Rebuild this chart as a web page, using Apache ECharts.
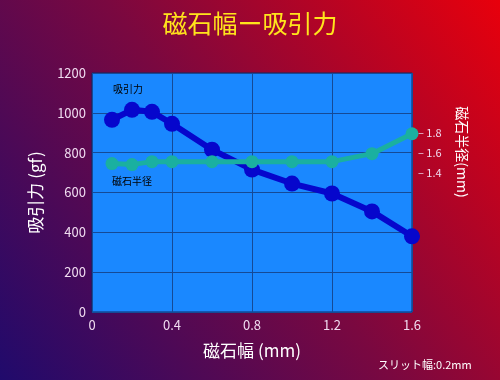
<!DOCTYPE html>
<html>
<head>
<meta charset="utf-8">
<script src="https://cdn.jsdelivr.net/npm/echarts@6/dist/echarts.min.js"></script>
<style>html,body{margin:0;padding:0;}#c{width:500px;height:380px;}</style>
</head>
<body>
<div id="c"></div>
<script>
const xValues = [0.1, 0.2, 0.3, 0.4, 0.6, 0.8, 1.0, 1.2, 1.4, 1.6];
const forceValues = [965, 1015, 1005, 945, 815, 715, 645, 595, 505, 380];
const radiusValues = [1.49, 1.48, 1.51, 1.51, 1.51, 1.51, 1.51, 1.51, 1.59, 1.79];
const rightTickLabels = [1.4, 1.6, 1.8];

const chart = echarts.init(document.getElementById('c'), null, {renderer: 'canvas'});
const font = '"Noto Sans CJK JP", "Noto Sans", sans-serif';
const labelColor = '#f0dcf0';
chart.setOption({
  backgroundColor: {
    type: 'linear', x: 0, y: 1, x2: 1, y2: 0,
    colorStops: [
      {offset: 0, color: '#200a6c'},
      {offset: 0.5, color: '#7a0840'},
      {offset: 1, color: '#e8000c'}
    ]
  },
  title: {
    text: '磁石幅ー吸引力',
    left: 'center', top: 6,
    textStyle: {color: '#ffe41c', fontSize: 25, fontWeight: 'normal', fontFamily: font}
  },
  grid: {left: 92, right: 88, top: 73, bottom: 68, show: true,
    backgroundColor: '#1a88ff', borderColor: '#0a2a66', borderWidth: 1},
  xAxis: {
    type: 'value', min: 0, max: 1.6, interval: 0.4,
    name: '磁石幅 (mm)', nameLocation: 'middle', nameGap: 30,
    nameTextStyle: {color: '#ffffff', fontSize: 17, fontFamily: font},
    axisLine: {show: false}, axisTick: {show: false},
    axisLabel: {color: labelColor, fontSize: 13, margin: 7, fontFamily: font},
    splitLine: {show: true, lineStyle: {color: '#154a96', width: 1}}
  },
  yAxis: [{
    type: 'value', min: 0, max: 1200, interval: 200,
    name: '吸引力 (gf)', nameLocation: 'middle', nameGap: 48, nameRotate: 90,
    nameTextStyle: {color: '#ffffff', fontSize: 17, fontFamily: font},
    axisLine: {show: false}, axisTick: {show: false},
    axisLabel: {color: labelColor, fontSize: 13, margin: 6, fontFamily: font,
      formatter: function (v) { return String(v); }},
    splitLine: {show: true, lineStyle: {color: '#154a96', width: 1}}
  }, {
    type: 'value', min: 0, max: 2.4, interval: 0.2, position: 'right',
    axisLine: {show: false}, axisTick: {show: false},
    splitLine: {show: false},
    axisLabel: {
      color: labelColor, fontSize: 11, margin: 6, fontFamily: font,
      formatter: function (v) {
        const r = Math.round(v * 10) / 10;
        return rightTickLabels.indexOf(r) >= 0 ? '– ' + r.toFixed(1) : '';
      }
    }
  }],
  graphic: [
    {type: 'text', left: 113, top: 84, style: {text: '吸引力', fill: '#000000', font: '10px ' + font}},
    {type: 'text', left: 112, top: 176, style: {text: '磁石半径', fill: '#000000', font: '10px ' + font}},
    {type: 'text', left: 378, top: 359, style: {text: 'スリット幅:0.2mm', fill: '#ffffff', font: '11px ' + font}},
    {type: 'text', x: 462, y: 152, rotation: -Math.PI / 2,
      style: {text: '磁石半径(mm)', fill: '#ffffff', font: '14px ' + font, align: 'center', verticalAlign: 'middle'}}
  ],
  series: [{
    type: 'line', name: '吸引力', yAxisIndex: 0,
    data: xValues.map((x, i) => [x, forceValues[i]]),
    symbol: 'circle', symbolSize: 16,
    lineStyle: {color: '#0606cc', width: 6},
    itemStyle: {color: '#0606cc'},
    z: 2
  }, {
    type: 'line', name: '磁石半径', yAxisIndex: 1,
    data: xValues.map((x, i) => [x, radiusValues[i]]),
    symbol: 'circle', symbolSize: 13,
    lineStyle: {color: '#1ab0a0', width: 5},
    itemStyle: {color: '#1ab0a0'},
    z: 3
  }],
  animation: false
});
</script>
</body>
</html>
